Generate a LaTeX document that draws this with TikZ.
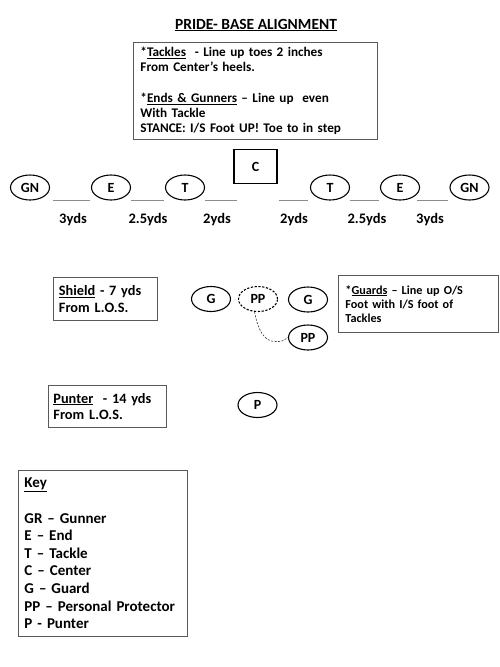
\documentclass[tikz,border=0pt]{standalone}
\usepackage{fontspec}
\setmainfont{Carlito}
\usetikzlibrary{shapes.geometric}
\begin{document}
\begin{tikzpicture}[x=1pt,y=-1pt,
  player/.style={draw, ellipse, line width=1.1pt, minimum width=39pt, minimum height=25pt, inner sep=0pt, font=\bfseries\fontsize{14}{16}\selectfont},
  dplayer/.style={player, dash pattern=on 2.2pt off 1.6pt},
  infobox/.style={draw=black!65, line width=0.9pt, anchor=north west, align=left, inner ysep=0pt},
  gap/.style={draw=black!45, line width=0.9pt},
  ydslabel/.style={inner sep=0pt, font=\bfseries\fontsize{14.5}{16}\selectfont},
  link/.style={draw=black!80, line width=0.6pt, dash pattern=on 2pt off 1.5pt}]
\useasboundingbox (0,0) rectangle (500,667);

% title
\node[inner sep=0pt, font=\bfseries\fontsize{15.5}{18}\selectfont] (title) at (256,25) {\underline{PRIDE- BASE ALIGNMENT}};

% top box
\node[infobox, minimum width=244pt, minimum height=97pt, text width=230pt, inner xsep=7pt,
  font=\bfseries\fontsize{13.2}{15.2}\selectfont] (topbox) at (133,42)
  {*\underline{Tackles}\ \ - Line up toes 2 inches\\From Center’s heels.\\[15.2pt]*\underline{Ends \& Gunners} – Line up\ \ even\\With Tackle\\STANCE: I/S Foot UP! Toe to in step};

% center
\node[draw, line width=1.1pt, minimum width=43pt, minimum height=34pt, inner sep=0pt, font=\bfseries\fontsize{14}{16}\selectfont] (C) at (255.5,166.5) {C};

% line of scrimmage players
\node[player] (GNL) at (30,187.5) {GN};
\node[player] (EL) at (111,187.5) {E};
\node[player] (TL) at (185,187.5) {T};
\node[player] (TR) at (330,187.5) {T};
\node[player] (ER) at (400,187.5) {E};
\node[player] (GNR) at (469.5,187.5) {GN};

\draw[gap] ([xshift=3pt]GNL.east |- GNL.south) -- ([xshift=-1pt]EL.west |- EL.south);
\draw[gap] (EL.east |- EL.south) -- ([xshift=-1pt]TL.west |- TL.south);
\draw[gap] (TL.east |- TL.south) -- ([xshift=4pt]C.west |- TL.south);
\draw[gap] ([xshift=1pt]C.east |- TR.south) -- ([xshift=-2pt]TR.west |- TR.south);
\draw[gap] (TR.east |- TR.south) -- ([xshift=-1pt]ER.west |- ER.south);
\draw[gap] ([xshift=-3pt]ER.east |- ER.south) -- ([xshift=-1pt]GNR.west |- GNR.south);

\node[ydslabel] (y1) at (73,220) {3yds};
\node[ydslabel] (y2) at (148,220) {2.5yds};
\node[ydslabel] (y3) at (217,220) {2yds};
\node[ydslabel] (y4) at (294,220) {2yds};
\node[ydslabel] (y5) at (367,220) {2.5yds};
\node[ydslabel] (y6) at (430,220) {3yds};

% shield
\node[infobox, minimum width=104pt, minimum height=43pt, text width=93pt, inner xsep=5.5pt,
  font=\bfseries\fontsize{14.3}{16.5}\selectfont] (shield) at (53,277)
  {\underline{Shield} - 7 yds\\From L.O.S.};

\node[player] (G1) at (211,299) {G};
\node[dplayer] (PP1) at (258,299) {PP};
\node[player] (G2) at (308,299.5) {G};
\node[player] (PP2) at (308,337.5) {PP};
\draw[link] (PP1.255) .. controls (258,330) and (264,342) .. (276,341.5) .. controls (282,341.5) .. (PP2.west);

% guards
\node[infobox, minimum width=160pt, minimum height=57pt, text width=146pt, inner xsep=7pt,
  font=\bfseries\fontsize{12.2}{14.2}\selectfont] (guards) at (338,275)
  {*\underline{Guards} – Line up O/S\\Foot with I/S foot of\\Tackles};

% punter
\node[infobox, minimum width=118pt, minimum height=42pt, text width=108pt, inner xsep=5pt,
  font=\bfseries\fontsize{14.3}{16.5}\selectfont] (punter) at (48,385)
  {\underline{Punter}\ \ - 14 yds\\From L.O.S.};
\node[player] (P) at (257.5,405) {P};

% key
\node[infobox, minimum width=169pt, minimum height=166pt, text width=157pt, inner xsep=6pt,
  font=\bfseries\fontsize{15}{17.6}\selectfont] (key) at (18,470)
  {\underline{Key}\\[17.6pt]GR – Gunner\\E – End\\T – Tackle\\C – Center\\G – Guard\\PP – Personal Protector\\P - Punter};
\end{tikzpicture}
\end{document}
